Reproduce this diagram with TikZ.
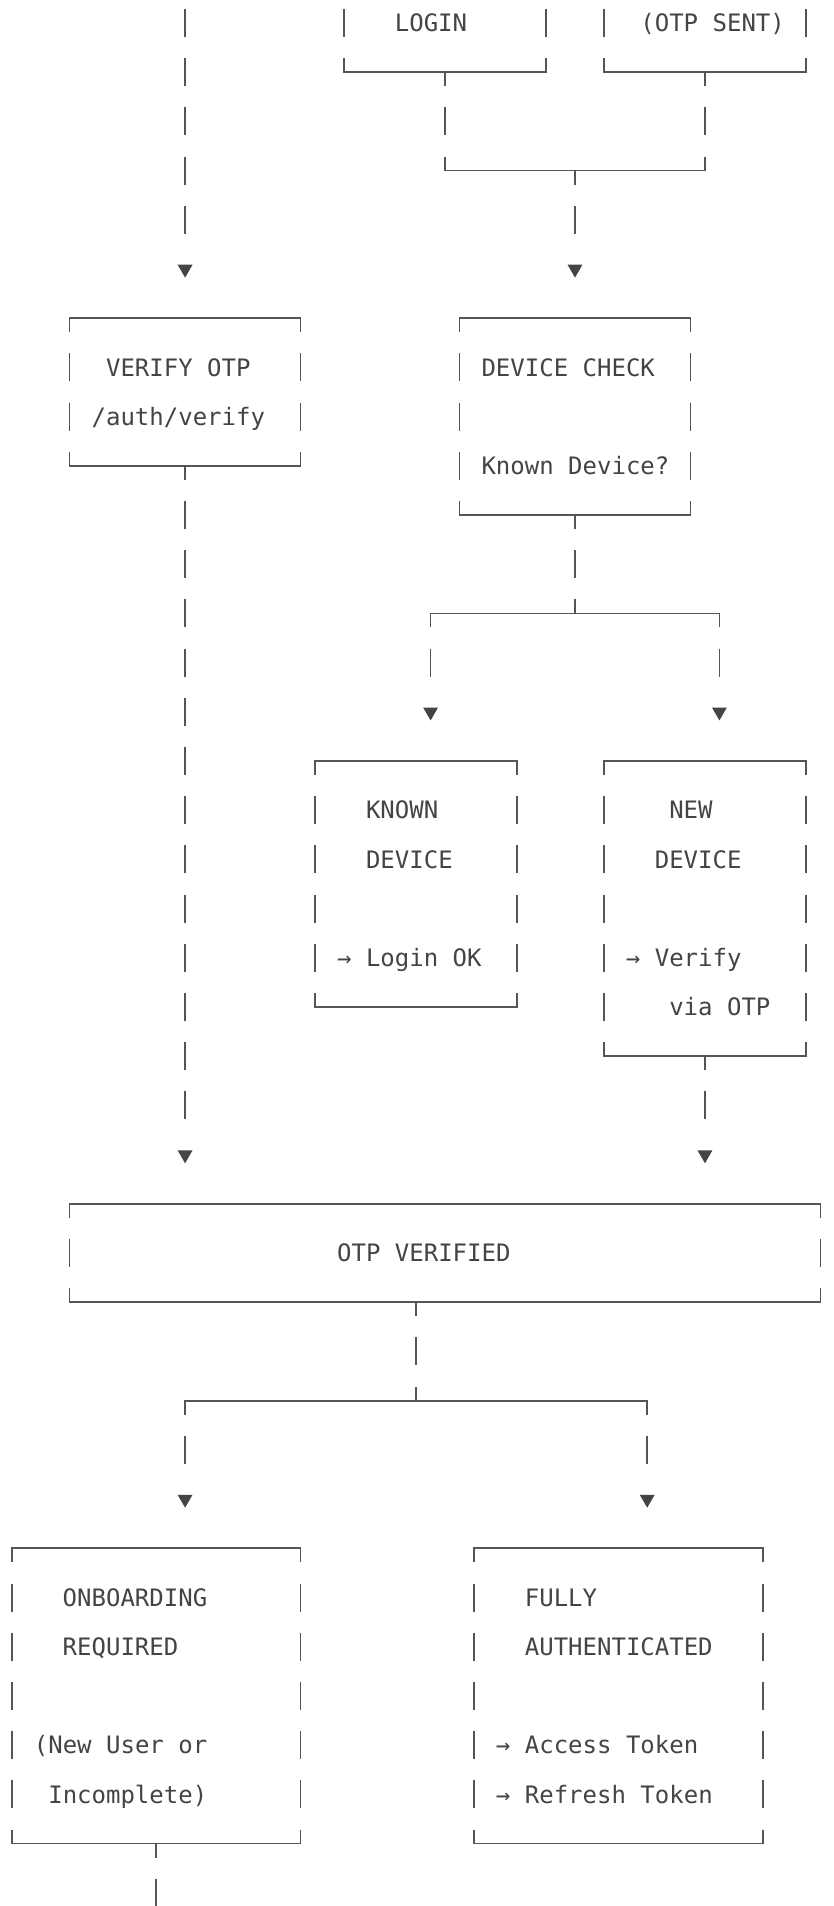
\documentclass[tikz,border=0pt]{standalone}
\usepackage{fontspec}
\newfontfamily\monoface{DejaVu Sans Mono}
\usepackage{xcolor}
\usepackage{tikz}
\usetikzlibrary{shapes.geometric}

\definecolor{ink}{HTML}{444444}
\definecolor{rule}{HTML}{555555}

\tikzset{
	edge/.style={rule, line width=0.85pt, line cap=rect},
	side/.style={rule, line width=0.85pt, dash pattern=on 14pt off 10.6pt, dash phase=7pt},
	link/.style={side, shorten >=9pt},
	tip/.style={regular polygon, regular polygon sides=3, shape border rotate=180, fill=ink, inner sep=0pt, minimum size=8.6pt},
	words/.style={anchor=base west, inner sep=0pt, text=ink, yshift=-4.37pt, font=\monoface\fontsize{12pt}{14pt}\selectfont}
}

\begin{document}
\begin{tikzpicture}[x={(7.22pt,0)}, y={(0,-24.6pt)}]
			\fill[white, use as bounding box] (-0.817,-0.4675) rectangle (56.87,38.27);
			\clip (-0.817,-0.4675) rectangle (56.87,38.27);
			
			\foreach \a/\b/\c/\d in {
				23/-1/37/1,
				41/-1/55/1,
				4/6/20/9,
				31/6/47/10,
				21/15/35/20,
				41/15/55/21,
				4/24/56/26,
				0/31/20/37,
				32/31/52/37
			}{
				\draw[edge] (\a,\b) -- (\c,\b);
				\draw[edge] (\a,\d) -- (\c,\d);
				\draw[side] (\a,\b) -- (\a,\d);
				\draw[side] (\c,\b) -- (\c,\d);
			}
			
			\foreach \x/\y/\label in {
				27/0/LOGIN,
				44/0/(OTP SENT),
				7/7/VERIFY OTP,
				6/8/{/auth/verify},
				33/7/DEVICE CHECK,
				33/9/Known Device?,
				25/16/KNOWN,
				25/17/DEVICE,
				23/19/→ Login OK,
				46/16/NEW,
				45/17/DEVICE,
				43/19/→ Verify,
				46/20/via OTP,
				23/25/OTP VERIFIED,
				4/32/ONBOARDING,
				4/33/REQUIRED,
				2/35/(New User or,
				3/36/Incomplete),
				36/32/FULLY,
				36/33/AUTHENTICATED,
				34/35/→ Access Token,
				34/36/→ Refresh Token
			}{
				\node[words] (w\x-\y) at (\x-0.5,\y) {\label};
			}
			
			\foreach \name/\x/\y in {
				tipa/12/5, tipb/39/5, tipc/12/23, tipd/29/14,
				tipe/49/14, tipf/48/23, tipg/12/30, tiph/44/30
			}{
				\node[tip] (\name) at (\x,\y) {};
			}
			
			\coordinate (feed) at (12,-1);
			\coordinate (login-s) at (30,1);
			\coordinate (otp-s) at (48,1);
			\coordinate (join-l) at (30,3);
			\coordinate (join) at (39,3);
			\coordinate (join-r) at (48,3);
			\coordinate (verify-s) at (12,9);
			\coordinate (check-s) at (39,10);
			\coordinate (fork-l) at (29,12);
			\coordinate (fork) at (39,12);
			\coordinate (fork-r) at (49,12);
			\coordinate (new-s) at (48,21);
			\coordinate (ok-s) at (28,26);
			\coordinate (split-l) at (12,28);
			\coordinate (split) at (28,28);
			\coordinate (split-r) at (44,28);
			\coordinate (onboard-s) at (10,37);
			\coordinate (exit) at (10,39);
			
			\draw[link] (feed) -- (tipa);
			\draw[side] (login-s) -- (join-l);
			\draw[side] (otp-s) -- (join-r);
			\draw[edge] (join-l) -- (join-r);
			\draw[link] (join) -- (tipb);
			\draw[link] (verify-s) -- (tipc);
			\draw[side] (check-s) -- (fork);
			\draw[edge] (fork-l) -- (fork-r);
			\draw[link] (fork-l) -- (tipd);
			\draw[link] (fork-r) -- (tipe);
			\draw[link] (new-s) -- (tipf);
			\draw[side] (ok-s) -- (split);
			\draw[edge] (split-l) -- (split-r);
			\draw[link] (split-l) -- (tipg);
			\draw[link] (split-r) -- (tiph);
			\draw[side] (onboard-s) -- (exit);
		\end{tikzpicture}
\end{document}
